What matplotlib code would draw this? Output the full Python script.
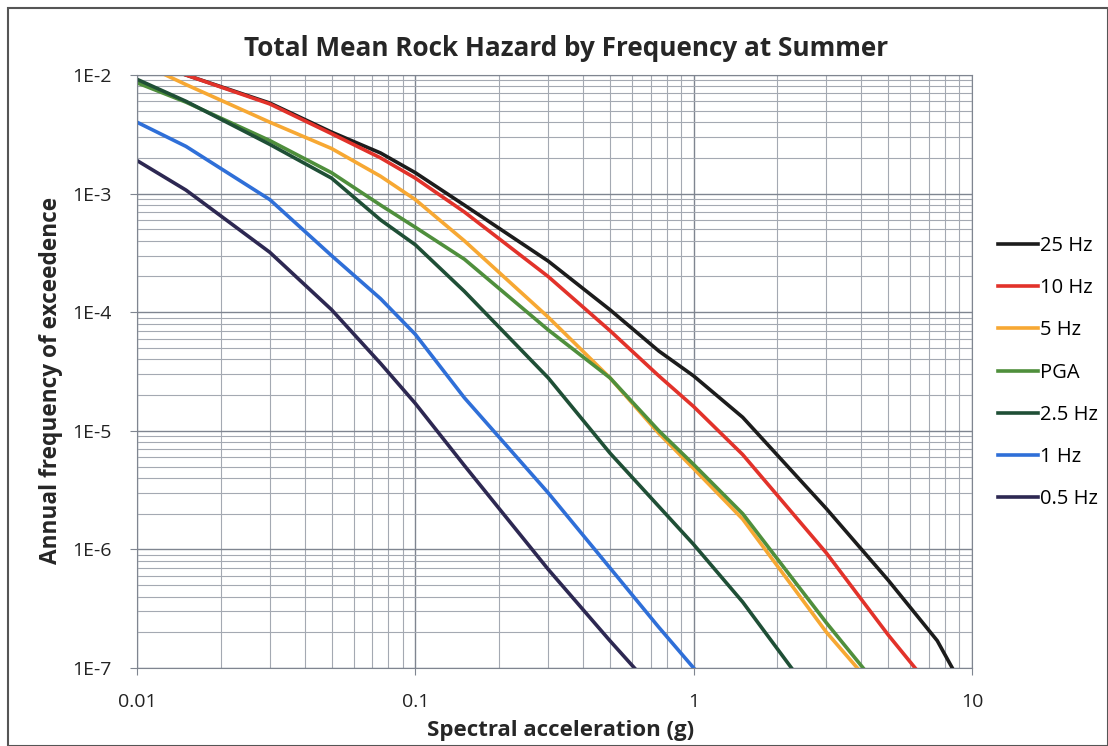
import matplotlib.pyplot as plt
import matplotlib.ticker as mticker
import numpy as np
from matplotlib.patches import Rectangle

plt.rcParams['font.family'] = ['Open Sans', 'DejaVu Sans']

# spectral acceleration (g)
sa = [0.01, 0.015, 0.03, 0.05, 0.075, 0.1, 0.15, 0.3, 0.5, 0.75, 1, 1.5, 3, 5, 7.5, 10]

nan = np.nan
hz25 = [1.4e-2, 1.0e-2, 5.8e-3, 3.3e-3, 2.2e-3, 1.5e-3, 8.0e-4, 2.7e-4, 1.05e-4, 4.7e-5, 2.9e-5, 1.3e-5, 2.2e-6, 5.5e-7, 1.7e-7, 5e-8]
hz10 = [1.4e-2, 1.0e-2, 5.7e-3, 3.2e-3, 2.0e-3, 1.35e-3, 7.0e-4, 2.0e-4, 7.0e-5, 2.9e-5, 1.6e-5, 6.3e-6, 9.3e-7, 1.9e-7, 5.9e-8, nan]
hz5 = [1.3e-2, 8.3e-3, 4.0e-3, 2.4e-3, 1.4e-3, 8.9e-4, 4.0e-4, 9.1e-5, 2.8e-5, 9.5e-6, 4.8e-6, 1.8e-6, 2.0e-7, 5.0e-8, nan, nan]
pga = [8.6e-3, 5.9e-3, 2.8e-3, 1.5e-3, 8.0e-4, 5.2e-4, 2.8e-4, 7.1e-5, 2.8e-5, 1.0e-5, 5.2e-6, 2.0e-6, 2.4e-7, 5.5e-8, nan, nan]
hz2_5 = [9.2e-3, 6.0e-3, 2.6e-3, 1.35e-3, 6.0e-4, 3.7e-4, 1.5e-4, 2.8e-5, 6.5e-6, 2.3e-6, 1.1e-6, 3.6e-7, 4.0e-8, nan, nan, nan]
hz1 = [4.0e-3, 2.5e-3, 8.9e-4, 3.0e-4, 1.3e-4, 6.5e-5, 1.9e-5, 3.0e-6, 7.0e-7, 2.2e-7, 1.0e-7, 3.2e-8, nan, nan, nan, nan]
hz0_5 = [1.9e-3, 1.07e-3, 3.2e-4, 1.05e-4, 3.7e-5, 1.7e-5, 5.1e-6, 6.8e-7, 1.7e-7, 5.9e-8, nan, nan, nan, nan, nan, nan]

labels = ['25 Hz', '10 Hz', '5 Hz', 'PGA', '2.5 Hz', '1 Hz', '0.5 Hz']
series = [hz25, hz10, hz5, pga, hz2_5, hz1, hz0_5]
colors = ['#1c1c1c', '#e2322a', '#f7a833', '#4f8f3c', '#1f4f36', '#2f6fd8', '#2d2852']

fig = plt.figure(figsize=(11.08, 7.46), dpi=100)
ax = fig.add_axes([137 / 1108, 1 - 668 / 746, (972 - 137) / 1108, (668 - 75) / 746])

for y, lab, c in zip(series, labels, colors):
    ax.plot(sa, y, color=c, lw=2.6, label=lab)

ax.set_xscale('log')
ax.set_yscale('log')
ax.set_xlim(0.01, 10)
ax.set_ylim(1e-7, 1e-2)

ax.xaxis.set_major_locator(mticker.FixedLocator([0.01, 0.1, 1, 10]))
ax.xaxis.set_major_formatter(mticker.FixedFormatter(['0.01', '0.1', '1', '10']))
ax.yaxis.set_major_locator(mticker.LogLocator(base=10, numticks=10))
ax.yaxis.set_major_formatter(mticker.FuncFormatter(lambda v, p: '1E%d' % round(np.log10(v))))
ax.xaxis.set_minor_locator(mticker.LogLocator(base=10, subs=np.arange(2, 10), numticks=20))
ax.yaxis.set_minor_locator(mticker.LogLocator(base=10, subs=np.arange(2, 10), numticks=20))
ax.xaxis.set_minor_formatter(mticker.NullFormatter())
ax.yaxis.set_minor_formatter(mticker.NullFormatter())

ax.grid(True, which='major', color='#7f8590', lw=1.0)
ax.grid(True, which='minor', color='#a4a9b2', lw=0.8)
ax.set_axisbelow(True)
ax.tick_params(which='major', direction='out', length=5, color='#7f8590', labelsize=14,
               labelcolor='#222222')
ax.tick_params(axis='y', pad=13)
ax.tick_params(axis='x', pad=13)
ax.tick_params(which='minor', length=0)
for s in ax.spines.values():
    s.set_color('#7f8590')

fig.text(566 / 1108, 1 - 48 / 746, 'Total Mean Rock Hazard by Frequency at Summer', fontsize=18.8,
         fontweight='bold', color='#262626', ha='center', va='center')
ax.set_xlabel('Spectral acceleration (g)', fontsize=16, fontweight='bold', color='#262626')
ax.set_ylabel('Annual frequency of exceedence', fontsize=16.3, fontweight='bold', color='#262626')
ax.xaxis.set_label_coords((561 - 137) / 835, (668 - 720) / 593)
ax.yaxis.set_label_coords((63 - 137) / 835, (668 - 380) / 593)

fig.legend(loc='upper left', bbox_to_anchor=(980 / 1108, 1 - 218 / 746), frameon=False,
           fontsize=14.5, handlelength=2.0, handletextpad=0.1, labelspacing=1.1)

fig.patches.append(Rectangle((8 / 1108, 0), 1 - 8 / 1108, 1 - 8 / 746, transform=fig.transFigure,
                             fill=False, edgecolor='#555555', lw=1.5))

fig.savefig('out.png', dpi=100)
